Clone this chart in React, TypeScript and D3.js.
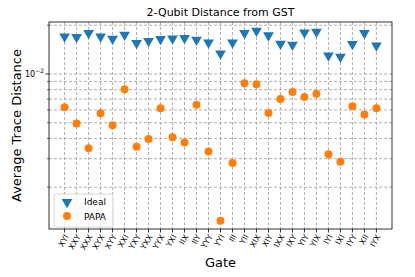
import * as d3 from "d3";

const gates = [
  "XYI", "XXY", "XXX", "XYX", "XYY", "XXI", "YXY", "YXX", "YYX", "YXI",
  "IIX", "IIY", "YYY", "YYI", "III", "YII", "XIX", "XIY", "IXX", "IXY",
  "YIY", "YIX", "IYI", "IXI", "IYY", "XII", "IYX",
];

const ideal = [
  0.01703, 0.01689, 0.01789, 0.01703, 0.01649, 0.01746, 0.0155, 0.01596, 0.01642, 0.01656,
  0.01665, 0.01625, 0.01564, 0.01336, 0.01564, 0.01789, 0.01848, 0.01729, 0.01535, 0.01513,
  0.01804, 0.01822, 0.01299, 0.01275, 0.01528, 0.01789, 0.01498,
];

const papa = [
  0.00624, 0.00494, 0.00348, 0.00573, 0.00483, 0.00804, 0.00356, 0.00397, 0.00615, 0.00407,
  0.00377, 0.00645, 0.00332, 0.00124, 0.00282, 0.00876, 0.00863, 0.00575, 0.007, 0.00773,
  0.0072, 0.00755, 0.00319, 0.00287, 0.00633, 0.00562, 0.00615,
];

const W = 415;
const H = 277;
const left = 49;
const right = 392;
const top = 22;
const bottom = 229;
const font = "DejaVu Sans, sans-serif";

export default function App() {
  const x = d3.scaleLinear().domain([-1.3, gates.length - 1 + 1.3]).range([left, right]);
  const y = d3.scaleLog().domain([0.001104, 0.02094]).range([bottom, top]);
  const yTicks = y.ticks();
  const tri = d3.symbol().type(d3.symbolTriangle).size(50)();

  return (
    <svg width={W} height={H} style={{ position: "absolute", left: 0, top: 0 }}>
      <rect width={W} height={H} fill="white" />
      {/* grid */}
      {gates.map((g, i) => (
        <line key={g + i} x1={x(i)} x2={x(i)} y1={top} y2={bottom}
          stroke="#b0b0b0" strokeDasharray="3,2" strokeWidth={1} />
      ))}
      {yTicks.map((t) => (
        <line key={"g" + t} x1={left} x2={right} y1={y(t)} y2={y(t)}
          stroke="#b0b0b0" strokeDasharray="3,2" strokeWidth={1} />
      ))}
      {/* ideal */}
      {ideal.map((v, i) => (
        <path key={"i" + i} d={tri} transform={`translate(${x(i)},${y(v)}) rotate(180)`} fill="#1f77b4" />
      ))}
      {/* papa */}
      {papa.map((v, i) => (
        <circle key={"p" + i} cx={x(i)} cy={y(v)} r={4} fill="#ff7f0e" />
      ))}
      {/* frame */}
      <rect x={left} y={top} width={right - left} height={bottom - top} fill="none" stroke="black" strokeWidth={0.8} />
      {/* y ticks */}
      {yTicks.map((t) => {
        const major = Math.abs(Math.log10(t) - Math.round(Math.log10(t))) < 1e-6;
        return (
          <line key={"t" + t} x1={left} x2={left - (major ? 3.5 : 2)} y1={y(t)} y2={y(t)}
            stroke="black" strokeWidth={major ? 0.8 : 0.6} />
        );
      })}
      <text x={left - 5} y={y(0.01) + 3} textAnchor="end" fontFamily={font} fontSize={8}>
        10<tspan dy={-4} fontSize={6}>−2</tspan>
      </text>
      {/* x ticks */}
      {gates.map((g, i) => (
        <g key={"x" + i}>
          <line x1={x(i)} x2={x(i)} y1={bottom} y2={bottom + 3.5} stroke="black" strokeWidth={0.8} />
          <text transform={`translate(${x(i) + 2},${bottom + 6}) rotate(-60)`} textAnchor="end"
            dy="0.35em" fontFamily={font} fontSize={8}>{g}</text>
        </g>
      ))}
      {/* legend */}
      <rect x={54} y={194} width={59} height={33} rx={2} fill="white" fillOpacity={0.8} stroke="#cccccc" strokeWidth={0.8} />
      <path d={tri} transform={`translate(67,202) rotate(180)`} fill="#1f77b4" />
      <text x={84} y={205} fontFamily={font} fontSize={9}>Ideal</text>
      <circle cx={67} cy={216} r={4} fill="#ff7f0e" />
      <text x={84} y={219.5} fontFamily={font} fontSize={9}>PAPA</text>
      {/* labels */}
      <text x={(left + right) / 2} y={16} textAnchor="middle" fontFamily={font} fontSize={11}>
        2-Qubit Distance from GST
      </text>
      <text transform={`translate(${(left + right) / 2},${267})`} textAnchor="middle" fontFamily={font} fontSize={13}>
        Gate
      </text>
      <text transform={`translate(21,${(top + bottom) / 2}) rotate(-90)`} textAnchor="middle" fontFamily={font} fontSize={13}>
        Average Trace Distance
      </text>
    </svg>
  );
}
